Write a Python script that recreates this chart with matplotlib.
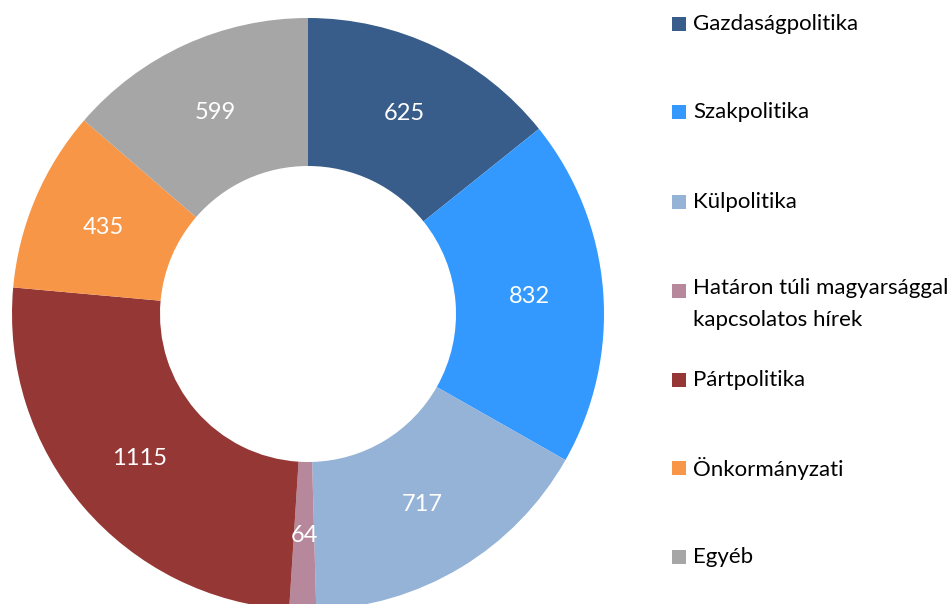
import numpy as np
import matplotlib.pyplot as plt
from matplotlib.patches import Rectangle

categories = ['Gazdaságpolitika', 'Szakpolitika', 'Külpolitika',
              'Határon túli magyarsággal\nkapcsolatos hírek', 'Pártpolitika',
              'Önkormányzati', 'Egyéb']
values = [625, 832, 717, 64, 1115, 435, 599]
colors = ['#385D8A', '#3399FF', '#95B3D7', '#B7879B', '#953735', '#F79646', '#A6A6A6']

plt.rcParams['font.family'] = ['Lato', 'DejaVu Sans']

W, H = 952, 604
fig = plt.figure(figsize=(W / 100, H / 100), dpi=100)

# pie axes: centre (308, 314) px, radius 296 px
cx, cy, r = 308, 314, 296
ax = fig.add_axes([(cx - r) / W, (H - cy - r) / H, 2 * r / W, 2 * r / H])
wedges, texts = ax.pie(values, colors=colors, startangle=90, counterclock=False,
                       radius=1, wedgeprops=dict(width=0.5, linewidth=0))
for w, v in zip(wedges, values):
    ang = np.deg2rad((w.theta1 + w.theta2) / 2)
    ax.text(0.75 * np.cos(ang), 0.75 * np.sin(ang), str(v), color='white',
            fontsize=17, ha='center', va='center')
ax.set_xlim(-1, 1)
ax.set_ylim(-1, 1)
ax.set_aspect('equal')
ax.axis('off')

# legend drawn by hand to match spacing
fs = 16
rows_y = [24, 112, 202, 291, 380, 468, 557]
for y, lab, c in zip(rows_y, categories, colors):
    fig.patches.append(Rectangle((672 / W, (H - y - 7) / H), 14 / W, 14 / H,
                                 transform=fig.transFigure, facecolor=c, edgecolor='none'))
    if '\n' in lab:
        fig.text(693 / W, (H - y + 13) / H, lab, fontsize=fs, va='top',
                 ha='left', color='black', linespacing=1.75)
    else:
        fig.text(693 / W, (H - y) / H, lab, fontsize=fs, va='center',
                 ha='left', color='black')

fig.savefig('out.png', dpi=100)
